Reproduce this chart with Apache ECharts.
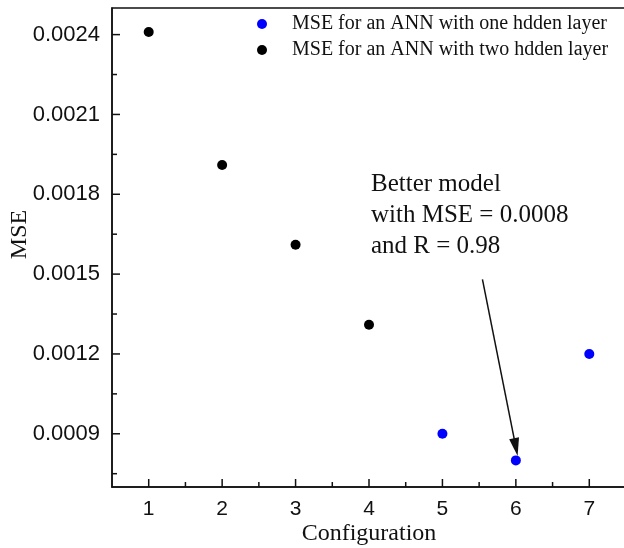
<!DOCTYPE html>
<html>
<head>
<meta charset="utf-8">
<script src="https://cdn.jsdelivr.net/npm/echarts@6/dist/echarts.min.js"></script>
<style>html,body{margin:0;padding:0;background:#fff}#c{width:624px;height:548px}</style>
</head>
<body>
<div id="c"></div>
<script>
const oneLayerX = [5, 6, 7];
const oneLayerY = [0.0009, 0.0008, 0.0012];
const twoLayerX = [1, 2, 3, 4];
const twoLayerY = [0.00241, 0.00191, 0.00161, 0.00131];
const xMajorTicks = [1, 2, 3, 4, 5, 6, 7];
const xMinorTicks = [1.5, 2.5, 3.5, 4.5, 5.5, 6.5];
const yMajorTicks = [0.0009, 0.0012, 0.0015, 0.0018, 0.0021, 0.0024];
const yMinorTicks = [0.00075, 0.00105, 0.00135, 0.00165, 0.00195, 0.00225];
const seriesNames = ['MSE for an ANN with one hdden layer', 'MSE for an ANN with two hdden layer'];
const arrowFrom = [5.545, 0.00148];
const arrowTo = [6.0, 0.00085];
const noteLines = ['Better model', 'with MSE = 0.0008', 'and R = 0.98'];

const sans = 'Liberation Sans, Arial, sans-serif';
const serif = 'Liberation Serif, Times New Roman, serif';
const X_MIN = 0.5, X_MAX = 7.5, Y_MIN = 0.0007, Y_MAX = 0.0025;
const INK = '#111';
const MAJOR_LEN = 8, MINOR_LEN = 5;

// inward tick marks, placed through the axes' own scales
const tickData = []
  .concat(xMajorTicks.map(v => [v, Y_MIN, 0, MAJOR_LEN]))
  .concat(xMinorTicks.map(v => [v, Y_MIN, 0, MINOR_LEN]))
  .concat(yMajorTicks.map(v => [X_MIN, v, 1, MAJOR_LEN]))
  .concat(yMinorTicks.map(v => [X_MIN, v, 1, MINOR_LEN]));

const chart = echarts.init(document.getElementById('c'), null, {renderer: 'canvas'});
chart.setOption({
  animation: false,
  backgroundColor: '#fff',
  grid: {left: 112, top: 8, bottom: 61, right: -2, containLabel: false, outerBoundsMode: 'none',
    show: true, borderColor: INK, borderWidth: 1.5, backgroundColor: 'transparent'},
  legend: {
    orient: 'vertical', left: 252, top: 9, itemWidth: 50, itemHeight: 10, itemGap: 6,
    textStyle: {fontFamily: serif, fontSize: 20, color: INK},
    data: seriesNames
  },
  xAxis: {
    type: 'value', min: X_MIN, max: X_MAX, position: 'bottom',
    name: 'Configuration', nameLocation: 'middle', nameGap: 35, nameMoveOverlap: false,
    nameTextStyle: {fontFamily: serif, fontSize: 24, color: INK},
    axisLine: {show: true, lineStyle: {color: INK, width: 1.5}},
    axisTick: {show: false},
    axisLabel: {customValues: xMajorTicks, fontFamily: sans, fontSize: 21, color: INK, margin: 12},
    splitLine: {show: false}
  },
  yAxis: {
    type: 'value', min: Y_MIN, max: Y_MAX, position: 'left',
    name: 'MSE', nameLocation: 'middle', nameGap: 80, nameMoveOverlap: false,
    nameTextStyle: {fontFamily: serif, fontSize: 24, color: INK, padding: [0, 0, 0, 26]},
    axisLine: {show: true, lineStyle: {color: INK, width: 1.5}},
    axisTick: {show: false},
    axisLabel: {customValues: yMajorTicks, fontFamily: sans, fontSize: 22, color: INK, margin: 12,
      formatter: v => v.toFixed(4)},
    splitLine: {show: false}
  },
  graphic: [{
    type: 'text', left: 371, top: 169,
    style: {text: noteLines.join('\n'), font: '25px ' + serif, fill: INK, lineHeight: 31}
  }],
  series: [{
    name: 'ticks', type: 'custom', silent: true, clip: false, z: 5,
    data: tickData,
    renderItem: function (params, api) {
      const p = api.coord([api.value(0), api.value(1)]);
      const vertical = api.value(2) === 0;
      const len = api.value(3);
      return {
        type: 'line',
        shape: vertical
          ? {x1: p[0], y1: p[1], x2: p[0], y2: p[1] - len}
          : {x1: p[0], y1: p[1], x2: p[0] + len, y2: p[1]},
        style: {stroke: INK, lineWidth: 1.5}
      };
    }
  }, {
    name: seriesNames[0], type: 'scatter', symbol: 'circle', symbolSize: 10,
    itemStyle: {color: '#0000ff', opacity: 1},
    data: oneLayerX.map((x, i) => [x, oneLayerY[i]]),
    markLine: {
      silent: true, symbol: ['none', 'triangle'], symbolSize: [10, 18],
      lineStyle: {color: INK, width: 1.5, type: 'solid'},
      label: {show: false},
      data: [[{coord: arrowFrom}, {coord: arrowTo}]]
    }
  }, {
    name: seriesNames[1], type: 'scatter', symbol: 'circle', symbolSize: 10,
    itemStyle: {color: '#000', opacity: 1},
    data: twoLayerX.map((x, i) => [x, twoLayerY[i]])
  }]
});
</script>
</body>
</html>
